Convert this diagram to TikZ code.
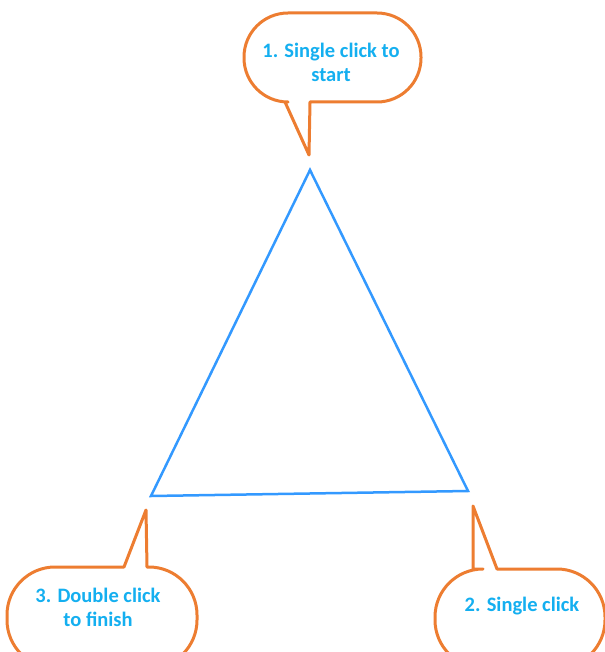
\documentclass[tikz,border=0pt]{standalone}
\usepackage{fontspec}
\setmainfont{Carlito}
\definecolor{bubbleorange}{RGB}{237,125,49}
\definecolor{textblue}{RGB}{20,175,240}
\definecolor{lineblue}{RGB}{51,153,255}

\begin{document}
\begin{tikzpicture}[x=1pt,y=-1pt,
  bubble/.style={draw=bubbleorange,line width=3pt,fill=white,line join=round},
  bubbletext/.style={text=textblue,font=\fontsize{20.5}{24}\selectfont\bfseries,align=center},
  sideline/.style={draw=lineblue,line width=2.5pt,line join=miter}]
  \useasboundingbox (0,0) rectangle (604,652);
  % triangle
  \coordinate (top) at (310,170);
  \coordinate (right) at (468,491);
  \coordinate (left) at (151,496);
  \draw[sideline] (top) -- (right) -- (left) -- cycle;
  % bubbles
  \coordinate (tip1) at (309,155);
  \coordinate (tip2) at (473,506);
  \coordinate (tip3) at (146,510);
  \draw[bubble] (tip1) -- (310,102) [rounded corners=44pt] -- (421,102) -- (421,13) -- (244,13) -- (244,102) [sharp corners] -- (285,102) -- cycle;
  \draw[bubble] (tip2) -- (497,569) [rounded corners=48pt] -- (605,569) -- (605,668) -- (435,668) -- (435,569) [sharp corners] -- (473,569) -- cycle;
  \draw[bubble] (tip3) -- (147,567) [rounded corners=48pt] -- (197,567) -- (197,668) -- (7,668) -- (7,567) [sharp corners] -- (124,567) -- cycle;
  \node[bubbletext] (start) at (331,62) {1. Single click to\\start};
  \node[bubbletext] (click) at (522,606) {2. Single click};
  \node[bubbletext] (finish) at (98,607) {3. Double click\\to finish};
\end{tikzpicture}
\end{document}
